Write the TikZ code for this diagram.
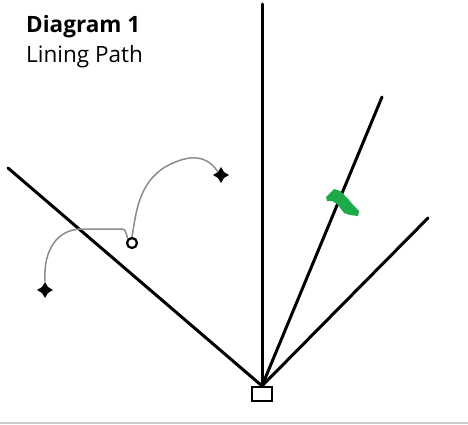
\documentclass[tikz,border=0pt]{standalone}
\usepackage{fontspec}
\setmainfont{Open Sans}
\usepackage{xcolor}
\usetikzlibrary{shapes.geometric,positioning,calc}
\definecolor{shoegreen}{RGB}{30,170,75}

\begin{document}
\begin{tikzpicture}[
  x=1pt, y=1pt,
  ray/.style={line width=3pt, line cap=round},
  base/.style={draw, line width=2.2pt, minimum width=20pt, minimum height=14pt, inner sep=0pt},
  sparkle/.style={star, star points=4, star point ratio=1.9, fill=black, minimum size=16pt, inner sep=0pt},
  ring/.style={draw, circle, line width=2.2pt, minimum size=10pt, inner sep=0pt},
  trail/.style={draw=black!45, line width=1.5pt}]
  \useasboundingbox (0,0) rectangle (468,424);
  % heading
  \node[anchor=base west, font=\bfseries\fontsize{22.5}{27}\selectfont, inner sep=0pt] (title) at (26,391) {Diagram 1};
  \node[anchor=base west, font=\fontsize{22.5}{27}\selectfont, inner sep=0pt] (sub) at (26,361) {Lining Path};
  % rays out of the base
  \node[base] (box) at (262,30) {};
  \coordinate (up) at (262,420);
  \coordinate (left) at (8,256);
  \coordinate (mid) at (382,327);
  \coordinate (low) at (428,206);
  \draw[ray] (box.north) -- (up);
  \draw[ray] (box.north) -- (left);
  \draw[ray] (box.north) -- (mid);
  \draw[ray] (box.north) -- (low);
  % shoe on the middle ray
  \fill[shoegreen] (326,227) -- (334,235) -- (340,233) -- (344,229) -- (349,224)
    -- (354,218) -- (359,213) -- (358,208) -- (350,209) -- (344,211) -- (341,215)
    -- (337,220) -- (332,223) -- (327,223) -- cycle;
  % path of the lining
  \node[sparkle] (start) at (45,134) {};
  \node[ring] (turn) at (132,181) {};
  \node[sparkle] (goal) at (221,249) {};
  \draw[trail] (start.north) .. controls (43,175) and (58,195) .. (82,195)
    -- (120,195) .. controls (125,195) .. (turn.north west);
  \draw[trail] (turn.north) .. controls (136,210) and (138,240) .. (165,257)
    .. controls (185,268) and (205,272) .. (goal.north west);
  % rule at the bottom
  \draw[black!20, line width=2pt] (0,1.5) -- (468,1.5);
\end{tikzpicture}
\end{document}
